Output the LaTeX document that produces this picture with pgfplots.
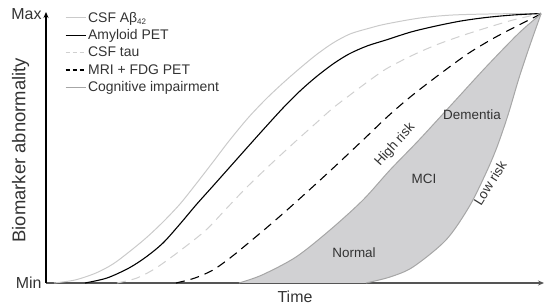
\documentclass[border=0pt]{standalone}
\usepackage{pgfplots}
\pgfplotsset{compat=1.18}
\usepgfplotslibrary{fillbetween}
\usetikzlibrary{arrows.meta}
\usepackage{fontspec}
\setmainfont{Liberation Sans}
\definecolor{lgray}{HTML}{CACACA}
\definecolor{lgdash}{HTML}{D0D0D0}
\definecolor{cogray}{HTML}{A6A6A6}
\definecolor{fillgray}{HTML}{D1D1D3}
\definecolor{axgray}{HTML}{555555}
\definecolor{txt}{HTML}{333333}
\begin{document}
\begin{tikzpicture}
\begin{axis}[
  at={(46bp,25bp)}, anchor=south west,
  scale only axis, width=498bp, height=271bp,
  xmin=0, xmax=498, ymin=0, ymax=271,
  axis lines=left,
  x axis line style={draw=axgray, line width=1.6pt, -{Stealth[length=6pt,width=5pt]}},
  y axis line style={draw=black, line width=1.1pt, -{Stealth[length=6pt,width=5pt]}},
  xtick=\empty,
  ytick={0,269}, yticklabels={Min,Max},
  major tick length=0pt,
  yticklabel style={font=\fontsize{16}{18}\selectfont, text=txt, xshift=-1pt},
  ylabel={Biomarker abnormality},
  ylabel style={at={(axis description cs:-0.051,0.49)}, anchor=center, font=\fontsize{18.5}{20}\selectfont, text=txt},
  xlabel={Time},
  xlabel style={at={(axis description cs:0.5,-0.052)}, anchor=center, font=\fontsize{16}{18}\selectfont, text=txt},
  clip=false,
  legend cell align=left,
  legend style={at={(axis description cs:0.038,1.008)}, anchor=north west, draw=none, fill=none,
    font=\fontsize{14}{16}\selectfont, text=txt, row sep=2pt, inner sep=0pt},
  legend image code/.code={\draw[#1] (0pt,0pt) -- (20pt,0pt);},
]
% cognitive impairment band
\addplot[name path=U, draw=none, smooth, forget plot] coordinates {
 (193,0) (216,8) (250,26) (284,53) (317,83) (344,113) (373,143) (407,180) (440,216) (473,250) (495,269)};
\addplot[name path=L, draw=none, smooth, forget plot] coordinates {
 (320,0) (344,6) (367,16) (400,43) (423,76) (440,110) (451,136) (462,168) (473,205) (484,238) (495,269)};
\addplot[fillgray, forget plot] fill between[of=U and L];

% CSF Abeta42
\addplot[lgray, line width=1pt, smooth] coordinates {
 (8,0) (29,3) (50,10) (67,19) (83,31) (100,45) (117,61) (134,79) (150,99) (167,121) (183,142) (202,165) (220,184) (237,200) (253,214) (270,228) (287,240) (304,249) (324,255) (340,259) (374,265) (407,268) (454,269.2) (495,269.5)};
\addlegendentry{CSF Aβ\textsubscript{\fontsize{8}{9}\selectfont 42}}
% Amyloid PET
\addplot[black, line width=1.1pt, smooth] coordinates {
 (39,0) (61,5) (83,15) (100,26) (117,40) (134,59) (150,78) (167,97) (183,115) (199,133) (216,152) (237,175) (254,192) (270,206) (287,219) (303,229) (321,237) (340,243) (365,251) (390,257) (415,262) (440,265.5) (467,268) (495,269.5)};
\addlegendentry{Amyloid PET}
% CSF tau
\addplot[lgdash, line width=1pt, dash pattern=on 9pt off 6pt, smooth,
  legend image post style={dash pattern=on 4pt off 3pt}] coordinates {
 (71,0) (91,5) (110,15) (135,33) (160,53) (180,74) (200,95) (225,119) (250,142) (269,159) (287,175) (304,188) (320,200) (340,214) (365,227) (390,238) (415,247) (440,255) (467,263) (495,269.5)};
\addlegendentry{CSF tau}
% MRI + FDG PET
\addplot[black, line width=1.1pt, dash pattern=on 9pt off 6pt, smooth,
  legend image post style={dash pattern=on 4pt off 3pt}] coordinates {
 (130,0) (149,5) (167,13) (184,25) (200,38) (225,59) (250,81) (284,112) (317,143) (340,165) (357,180) (373,193) (398,212) (423,230) (448,245) (473,258) (495,269)};
\addlegendentry{MRI + FDG PET}
% Cognitive impairment boundaries
\addplot[cogray, line width=1pt, smooth] coordinates {
 (193,0) (216,8) (250,26) (284,53) (317,83) (344,113) (373,143) (407,180) (440,216) (473,250) (495,269)};
\addlegendentry{Cognitive impairment}
\addplot[cogray, line width=1pt, smooth, forget plot] coordinates {
 (320,0) (344,6) (367,16) (400,43) (423,76) (440,110) (451,136) (462,168) (473,205) (484,238) (495,269)};

\node[text=txt, font=\fontsize{13.5}{16}\selectfont] at (axis cs:308,30) {Normal};
\node[text=txt, font=\fontsize{13.5}{16}\selectfont] at (axis cs:378,104) {MCI};
\node[text=txt, font=\fontsize{13.5}{16}\selectfont] at (axis cs:426,168) {Dementia};
\node[text=txt, font=\fontsize{13.5}{16}\selectfont, rotate=48] at (axis cs:349,138) {High risk};
\node[text=txt, font=\fontsize{13.5}{16}\selectfont, rotate=58] at (axis cs:444,100) {Low risk};
\end{axis}
\pgfresetboundingbox
\path[use as bounding box] (0,0) rectangle (544bp,308bp);
\end{tikzpicture}
\end{document}
